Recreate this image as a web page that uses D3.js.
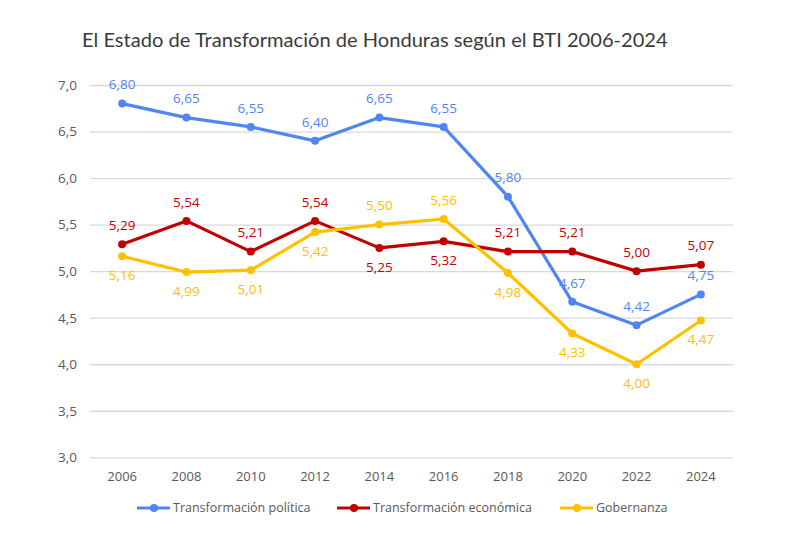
<!DOCTYPE html>
<html><head><meta charset="utf-8">
<script src="https://cdn.jsdelivr.net/npm/d3@7"></script>
<style>body{margin:0;background:#fff}svg{display:block}text{font-family:"Open Sans",sans-serif}</style>
</head><body><svg id="c" width="800" height="545"></svg>
<script>
const years = ["2006","2008","2010","2012","2014","2016","2018","2020","2022","2024"];
const politica = [6.80,6.65,6.55,6.40,6.65,6.55,5.80,4.67,4.42,4.75];
const economica = [5.29,5.54,5.21,5.54,5.25,5.32,5.21,5.21,5.00,5.07];
const gobernanza = [5.16,4.99,5.01,5.42,5.50,5.56,4.98,4.33,4.00,4.47];
const yTicks = [3.0,3.5,4.0,4.5,5.0,5.5,6.0,6.5,7.0];
const seriesNames = ["Transformación política","Transformación económica","Gobernanza"];
// label placement: 1 above, -1 below
const posPolitica = [1,1,1,1,1,1,1,1,1,1];
const posEconomica = [1,1,1,1,-1,-1,1,1,1,1];
const posGobernanza = [-1,-1,-1,-1,1,1,-1,-1,-1,-1];

const colors = ["#4F86F0","#C00000","#FFC000"];
const svg = d3.select("#c");
const fmt = v => v.toFixed(2).replace(".", ",");
const x = d3.scaleBand().domain(years).range([90,733]);
const y = d3.scaleLinear().domain([3,7]).range([457.3,85]);

svg.append("text").attr("x",82).attr("y",47).attr("font-size",20.1).attr("fill","#3a3a3a")
  .style("font-family","Lato, sans-serif")
  .text("El Estado de Transformación de Honduras según el BTI 2006-2024");

const gy = svg.append("g").attr("transform","translate(90,0)")
  .call(d3.axisLeft(y).tickValues(yTicks).tickSize(-643).tickFormat(d=>d.toFixed(1).replace(".",",")));
gy.select(".domain").remove();
gy.selectAll(".tick line").attr("stroke","#d9d9d9").attr("stroke-width",1.3);
gy.selectAll(".tick text").attr("x",-13).attr("font-size",13.5).attr("fill","#595959").attr("font-family","Open Sans");

const gx = svg.append("g").attr("transform","translate(0,457.3)")
  .call(d3.axisBottom(x).tickSize(0));
gx.select(".domain").remove();
gx.selectAll(".tick text").attr("dy",0).attr("y",24).attr("font-size",13).attr("fill","#595959").attr("font-family","Open Sans");

const all = [[politica,posPolitica],[economica,posEconomica],[gobernanza,posGobernanza]];
const line = d3.line().x((d,i)=>x(years[i])+x.bandwidth()/2).y(d=>y(d));
all.forEach(([vals,pos],k)=>{
  const g = svg.append("g");
  g.append("path").datum(vals).attr("d",line).attr("fill","none").attr("stroke",colors[k]).attr("stroke-width",3.2).attr("stroke-linejoin","round");
  g.selectAll("circle").data(vals).join("circle")
    .attr("cx",(d,i)=>x(years[i])+x.bandwidth()/2).attr("cy",d=>y(d)).attr("r",4).attr("fill",colors[k]);
  g.selectAll("text").data(vals).join("text")
    .attr("x",(d,i)=>x(years[i])+x.bandwidth()/2).attr("y",(d,i)=>y(d)-pos[i]*19)
    .attr("dy","0.35em").attr("text-anchor","middle").attr("font-size",13.5).attr("fill",colors[k])
    .text(d=>fmt(d));
});

const legX = [137,337,560];
seriesNames.forEach((n,k)=>{
  const g = svg.append("g").attr("transform",`translate(${legX[k]},508)`);
  g.append("line").attr("x1",0).attr("x2",33).attr("stroke",colors[k]).attr("stroke-width",3.2);
  g.append("circle").attr("cx",17).attr("r",4).attr("fill",colors[k]);
  g.append("text").attr("x",36).attr("dy","0.35em").attr("font-size",12.5).attr("fill","#595959").text(n);
});
</script></body></html>
